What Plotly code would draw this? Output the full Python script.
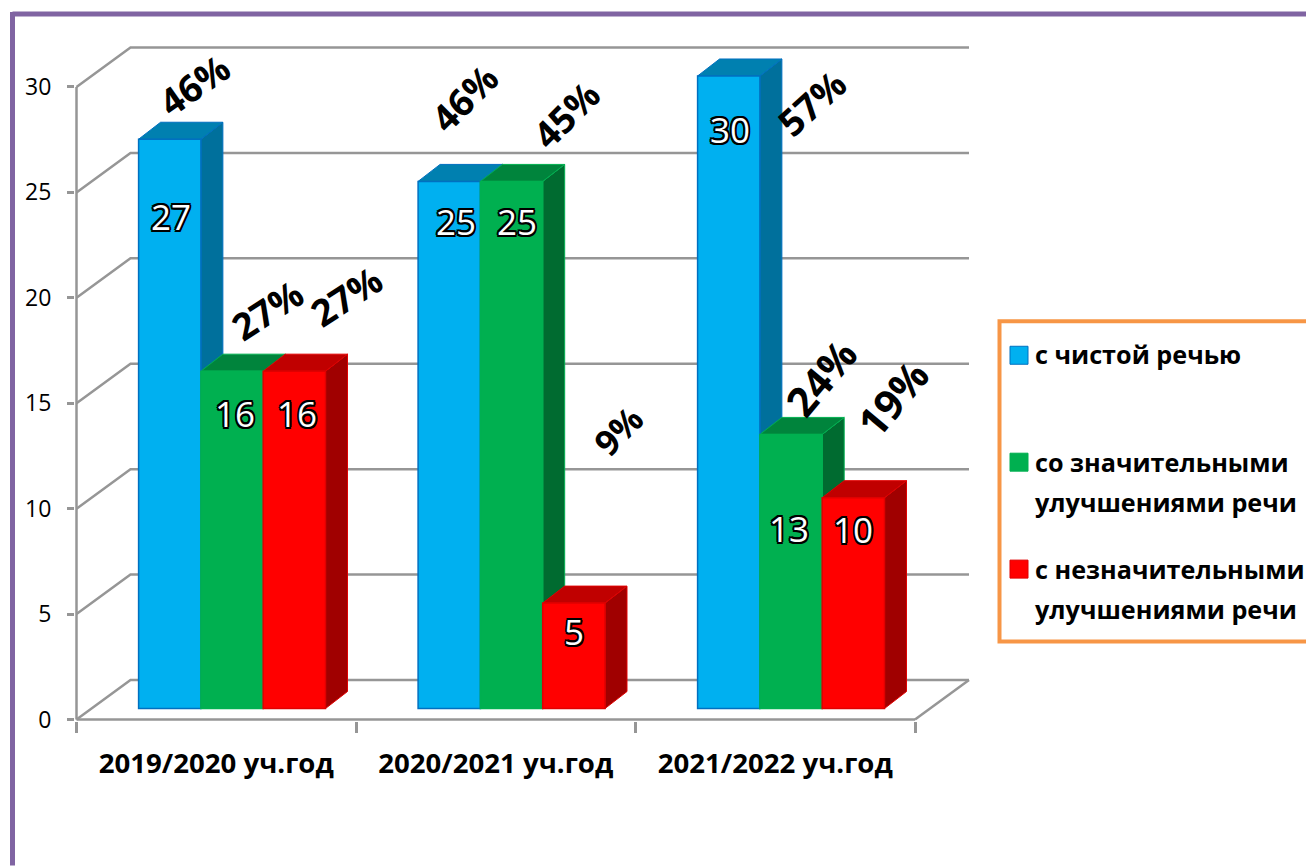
import plotly.graph_objects as go

categories = ["2019/2020 уч.год", "2020/2021 уч.год", "2021/2022 уч.год"]
series_names = ["с чистой речью", "со значительными\nулучшениями речи", "с незначительными\nулучшениями речи"]
clean_speech = [27, 25, 30]
major_improvement = [16, 25, 13]
minor_improvement = [16, 5, 10]
clean_pct = ["46%", "46%", "57%"]
major_pct = ["27%", "45%", "24%"]
minor_pct = ["27%", "9%", "19%"]
y_ticks = [0, 5, 10, 15, 20, 25, 30]

values = [clean_speech, major_improvement, minor_improvement]
percents = [clean_pct, major_pct, minor_pct]

FRONT = ["#00B0F0", "#00B050", "#FF0000"]
EDGE = ["#0070C0", "#00B050", "#E00000"]
TOP = ["#0080B0", "#00843C", "#C00000"]
SIDE = ["#00709C", "#006B30", "#A00000"]

W, H = 1306, 866
X0, X3, Y0, Y30 = 76.5, 915.0, 720.0, 87.0      # pixels of the front axes
PL, PR, PT, PB = 75.0, 973.0, 40.0, 721.5       # plot rectangle
PXX = (X3 - X0) / 3
PXY = (Y0 - Y30) / 30
XR = [(PL - X0) / PXX, (PR - X0) / PXX]
YR = [(Y0 - PB) / PXY, (Y0 - PT) / PXY]
WALL_X, WALL_Y = 54 / PXX, 39.5 / PXY
DX, DY = 22 / PXX, 17 / PXY
BASE = 11 / PXY
BAR_W = 62.3 / PXX
GROUP_C = 0.5565
GRID = "#969696"
FONT = "Open Sans"

# label offsets (px) from the top-centre of each bar
pct_off = [[(24, -55), (15, -84), (83, 27)],
           [(35, -62), (54, -67), (30, -57)],
           [(52, -76), (44, -173), (39, -100)]]
pct_angle = [[-35, -45, -42], [-33, -45, -50], [-33, -45, -50]]
pct_size = [[37, 37, 37], [37, 37, 41], [37, 35, 41]]
val_drop = [[77, 40, 54], [42, 40, 94], [42, 28, 32]]
val_dx = [[1, 7, 1], [3, 5, -2], [3, 0, 0]]


def px(x):
    return (x - PL) / (PR - PL)


def py(y):
    return (PB - y) / (PB - PT)


def wire(xs, ys):
    return go.Scatter(x=xs, y=ys, mode="lines", line=dict(color=GRID, width=2.5),
                      showlegend=False, hoverinfo="skip")


fig = go.Figure()

# wall, floor and front axis lines
for v in y_ticks:
    fig.add_trace(wire([0, WALL_X, 3 + WALL_X], [v, v + WALL_Y, v + WALL_Y]))
fig.add_trace(wire([3, 3 + WALL_X], [0, WALL_Y]))
fig.add_trace(wire([0, 3], [0, 0]))
fig.add_trace(wire([0, 0], [0, 30]))

# depth faces
for g in range(3):
    for s in range(3):
        c = g + GROUP_C + (s - 1) * BAR_W
        x0, x1 = c - BAR_W / 2, c + BAR_W / 2
        t = BASE + values[s][g]
        fig.add_trace(go.Scatter(
            x=[x1, x1 + DX, x1 + DX, x1, x1], y=[BASE, BASE + DY, t + DY, t, BASE],
            mode="lines", fill="toself", fillcolor=SIDE[s], line=dict(color=EDGE[s], width=1),
            showlegend=False, hoverinfo="skip"))
        fig.add_trace(go.Scatter(
            x=[x0, x0 + DX, x1 + DX, x1, x0], y=[t, t + DY, t + DY, t, t],
            mode="lines", fill="toself", fillcolor=TOP[s], line=dict(color=EDGE[s], width=1),
            showlegend=False, hoverinfo="skip"))

# front faces on an overlay so they cover the neighbouring depth faces
for s in range(3):
    fig.add_trace(go.Bar(
        x=[g + GROUP_C + (s - 1) * BAR_W for g in range(3)], y=values[s], base=BASE, width=BAR_W,
        marker=dict(color=FRONT[s], line=dict(color=EDGE[s], width=1.5)),
        name=series_names[s].replace("\n", " "), xaxis="x2", yaxis="y2", showlegend=False))

ann = []
OUTLINE = ("-1.6px -1.6px 0 #000, 1.6px -1.6px 0 #000, -1.6px 1.6px 0 #000, 1.6px 1.6px 0 #000, "
           "0 2px 0 #000, 0 -2px 0 #000, 2px 0 0 #000, -2px 0 0 #000")
for g in range(3):
    for s in range(3):
        c = g + GROUP_C + (s - 1) * BAR_W
        t = BASE + values[s][g]
        dx, dy = pct_off[s][g]
        ann.append(dict(x=c, y=t, xref="x", yref="y", xshift=dx, yshift=-dy, text=percents[s][g],
                        showarrow=False, textangle=pct_angle[s][g], xanchor="center", yanchor="middle",
                        font=dict(family=FONT, size=pct_size[s][g], color="#000000", weight=700)))
        ann.append(dict(x=c, y=t, xref="x", yref="y", xshift=val_dx[s][g], yshift=-val_drop[s][g],
                        text=str(values[s][g]), showarrow=False, xanchor="center", yanchor="middle",
                        font=dict(family=FONT, size=35, color="#FFFFFF", shadow=OUTLINE)))

# frame and legend box
shapes = [
    dict(type="line", xref="paper", yref="paper", x0=px(12.5), x1=px(1306), y0=py(14), y1=py(14),
         line=dict(color="#8064A2", width=5)),
    dict(type="line", xref="paper", yref="paper", x0=px(12.5), x1=px(12.5), y0=py(12), y1=py(866),
         line=dict(color="#8064A2", width=5)),
    dict(type="rect", xref="paper", yref="paper", x0=px(999.5), x1=px(1312), y0=py(321.5), y1=py(642),
         line=dict(color="#F79646", width=4)),
]
swatch_y = [355.5, 462.5, 569.5]
line_y = [[354], [462, 502], [569, 609]]
for s in range(3):
    shapes.append(dict(type="rect", xref="paper", yref="paper", x0=px(1010), x1=px(1028),
                       y0=py(swatch_y[s] - 9), y1=py(swatch_y[s] + 9),
                       fillcolor=FRONT[s], line=dict(color=EDGE[s], width=1)))
    for ly, txt in zip(line_y[s], series_names[s].split("\n")):
        ann.append(dict(x=px(1033), y=py(ly), xref="paper", yref="paper", text=txt, showarrow=False,
                        xanchor="left", yanchor="middle",
                        font=dict(family=FONT, size=25.2, color="#000000", weight=700)))

fig.update_layout(
    width=W, height=H, margin=dict(l=PL, r=W - PR, t=PT, b=H - PB, pad=0, autoexpand=False),
    paper_bgcolor="#FFFFFF", plot_bgcolor="#FFFFFF", showlegend=False, barmode="overlay",
    font=dict(family=FONT, color="#000000"),
    shapes=shapes, annotations=ann,
    xaxis=dict(range=XR, tickmode="array", tickvals=[0.5, 1.5, 2.5], ticktext=categories,
               ticks="", ticklen=0, showgrid=False, zeroline=False, showline=False,
               ticklabelstandoff=23,
               tickfont=dict(family=FONT, size=27.6, color="#000000", weight=700),
               minor=dict(tickmode="array", tickvals=[0, 1, 2, 3], ticks="outside", ticklen=11,
                          tickcolor=GRID, tickwidth=2.5, showgrid=False)),
    yaxis=dict(range=YR, tickmode="array", tickvals=y_ticks, ticks="outside", ticklen=7,
               tickcolor=GRID, tickwidth=2.5, showgrid=False, zeroline=False, showline=False,
               ticklabelstandoff=11,
               tickfont=dict(family=FONT, size=23, color="#000000")),
    xaxis2=dict(range=XR, overlaying="x", visible=False),
    yaxis2=dict(range=YR, overlaying="y", visible=False),
)

fig.write_html("out.html", config=dict(displayModeBar=False),
               post_script="document.body.style.margin='0';document.body.style.overflow='hidden';")
